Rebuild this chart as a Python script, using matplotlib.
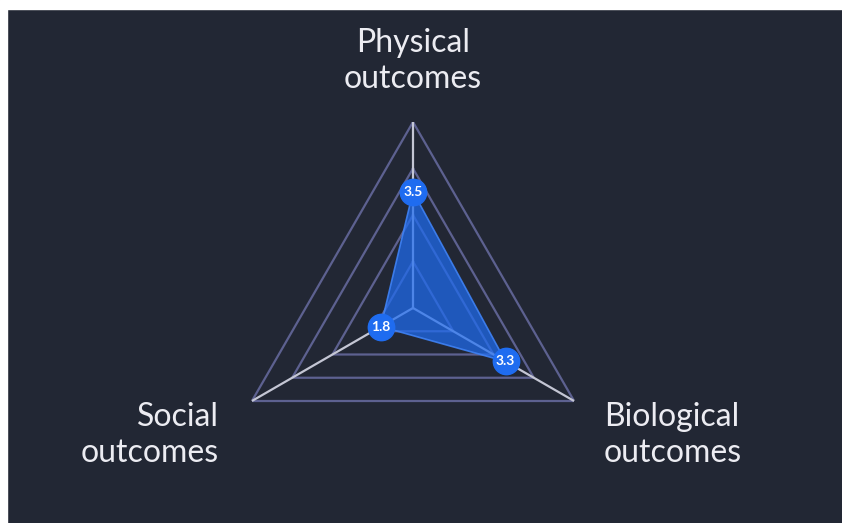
import numpy as np
import matplotlib
matplotlib.use("Agg")
import matplotlib.pyplot as plt
from matplotlib.patches import Rectangle

categories = ["Physical\noutcomes", "Biological\noutcomes", "Social\noutcomes"]
values = [3.5, 3.3, 1.8]
value_labels = ["3.5", "3.3", "1.8"]
scale_min, scale_max = 1, 5
levels = [2, 3, 4, 5]

bg = "#222734"
grid_col = "#5d6190"
spoke_col = "#c4c6d4"
blue = "#1f6cf0"

plt.rcParams["font.family"] = ["Lato", "DejaVu Sans"]

fig = plt.figure(figsize=(8.42, 5.23), dpi=100, facecolor=bg)
ax = fig.add_axes([227 / 842, 29 / 523, 372 / 842, 372 / 523], projection="polar")
ax.set_facecolor("none")
ax.set_theta_offset(np.pi / 2)
ax.set_theta_direction(-1)
ax.set_ylim(scale_min, scale_max)
ax.grid(False)
ax.spines["polar"].set_visible(False)
ax.set_xticks([])
ax.set_yticks([])

n = len(categories)
theta = np.arange(n) * 2 * np.pi / n
closed = np.append(theta, theta[0])

# triangular grid
for lv in levels:
    ax.plot(closed, [lv] * (n + 1), color=grid_col, lw=1.6, zorder=1)

# spokes
for t in theta:
    ax.plot([t, t], [scale_min, scale_max], color=spoke_col, lw=1.6, zorder=2)

# data polygon
vals = np.append(values, values[0])
ax.fill(closed, vals, color=blue, alpha=0.72, zorder=3, lw=0)
ax.plot(closed, vals, color="#3f82f5", lw=1.2, alpha=0.9, zorder=3)
ax.plot(theta, values, "o", ms=19, color=blue, zorder=4)
for t, v, s in zip(theta, values, value_labels):
    ax.text(t, v, s, color="white", fontsize=10, fontweight="bold",
            ha="center", va="center", zorder=5)

# category labels
offsets = [(0, 28, "center", "bottom"), (30, -34, "left", "center"),
           (-33, -34, "right", "center")]
for t, lab, (dx, dy, ha, va) in zip(theta, categories, offsets):
    ax.annotate(lab, xy=(t, scale_max), xytext=(dx, dy), textcoords="offset pixels",
                ha=ha, va=va, color="#ececf2", fontsize=23, linespacing=1.25,
                annotation_clip=False)

# white borders of the original screenshot
fig.add_artist(Rectangle((0, 0), 7 / 842, 1, transform=fig.transFigure,
                         color="white", zorder=10))
fig.add_artist(Rectangle((0, 1 - 9 / 523), 1, 9 / 523, transform=fig.transFigure,
                         color="white", zorder=10))

fig.savefig("out.png", dpi=100, facecolor=bg)
